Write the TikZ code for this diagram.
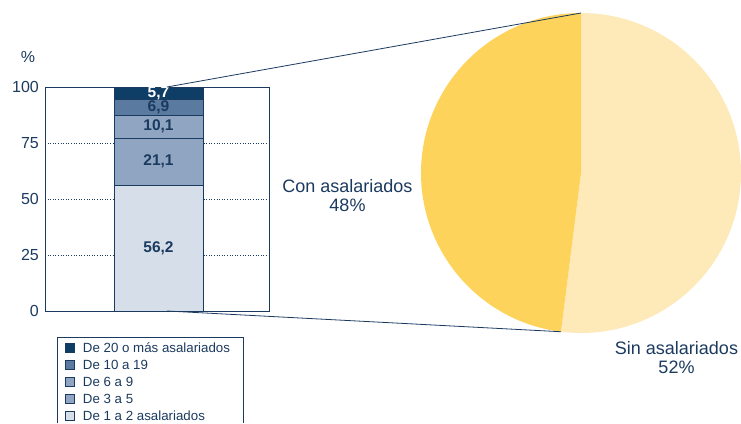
\documentclass[tikz,border=0pt]{standalone}
\usepackage{fontspec}
\setmainfont{Liberation Sans}
\usepackage{tikz}
\usetikzlibrary{positioning}
\definecolor{navy}{HTML}{1B3A5F}
\definecolor{cTwenty}{HTML}{0E3D66}
\definecolor{cTen}{HTML}{5B7A9F}
\definecolor{cSix}{HTML}{90A5C2}
\definecolor{cThree}{HTML}{90A5C2}
\definecolor{cOne}{HTML}{D6DEE9}
\definecolor{pieDark}{HTML}{FDD35C}
\definecolor{pieLight}{HTML}{FEEAB8}

\begin{document}
\begin{tikzpicture}[x=1pt, y=1pt,
seg/.style={draw=navy, line width=.6pt},
val/.style={font=\fontsize{15.5}{16}\selectfont\bfseries, text=navy, inner sep=0pt},
tick/.style={font=\fontsize{16}{18}\selectfont, text=navy, anchor=east, inner sep=0pt},
gridline/.style={navy, dotted, line width=.6pt},
key/.style={draw=navy, line width=.5pt, minimum size=9pt, inner sep=0pt},
keytext/.style={font=\fontsize{13.3}{14}\selectfont, text=navy, inner sep=0pt},
pielabel/.style={font=\fontsize{18}{19.5}\selectfont, text=navy, align=center, inner sep=0pt}
]
\useasboundingbox (0,0) rectangle (741,423);

% pie
\coordinate (pc) at (581,250);
\fill[pieLight] (pc) -- ++(90:160pt) arc[start angle=90, end angle=-97.2, radius=160pt] -- cycle;
\fill[pieDark] (pc) -- ++(90:160pt) arc[start angle=90, end angle=262.8, radius=160pt] -- cycle;
\path (pc) ++(90:160pt) coordinate (pietop);
\path (pc) ++(-97.2:160pt) coordinate (piecut);

\node (con) [pielabel] at (347.5,227.5) {Con asalariados\\48\%};
\node (sin) [pielabel] at (676.5,65.5) {Sin asalariados\\52\%};

% stacked bar
\node (pct) [tick, anchor=center] at (28,366) {\%};
\begin{scope}[shift={(0,112)}, y=2.24pt]
\foreach \g in {25,50,75}
  \draw[gridline] (45,\g) -- (269,\g);
\foreach \g in {0,25,50,75,100}
  \node[tick] at (39,\g) {\g};
\draw[navy, line width=.6pt] (45,0) rectangle (269,100);
\coordinate (barbot) at (167,0);
\coordinate (bartop) at (167,100);
\draw[seg, fill=cOne] (114,0) rectangle (203,56.2);
\draw[seg, fill=cThree] (114,56.2) rectangle (203,77.3);
\draw[seg, fill=cSix] (114,77.3) rectangle (203,87.4);
\draw[seg, fill=cTen] (114,87.4) rectangle (203,94.3);
\draw[seg, fill=cTwenty] (114,94.3) rectangle (203,100);
\node (vOne) [val] at (158.5,28.1) {56,2};
\node (vThree) [val] at (158.5,66.75) {21,1};
\node (vSix) [val] at (158.5,82.35) {10,1};
\node (vTen) [val] at (158.5,90.85) {6,9};
\node (vTwenty) [val, text=white] at (158.5,97.15) {5,7};
\end{scope}

\draw[navy, line width=.8pt] (bartop) -- (pietop);
\draw[navy, line width=.8pt] (barbot) -- (piecut);

% legend
\draw[navy, line width=.6pt] (57,0) -- (57,86) -- (243,86) -- (243,0);
\node (kTwenty) [key, fill=cTwenty] at (70,75) {};
\node (kTen) [key, fill=cTen, below=7.5pt of kTwenty] {};
\node (kSix) [key, fill=cSix, below=7.5pt of kTen] {};
\node (kThree) [key, fill=cThree, below=7.5pt of kSix] {};
\node (kOne) [key, fill=cOne, below=7.5pt of kThree] {};
\node [keytext, right=8pt of kTwenty] {De 20 o más asalariados};
\node [keytext, right=8pt of kTen] {De 10 a 19};
\node [keytext, right=8pt of kSix] {De 6 a 9};
\node [keytext, right=8pt of kThree] {De 3 a 5};
\node [keytext, right=8pt of kOne] {De 1 a 2 asalariados};
\end{tikzpicture}
\end{document}
